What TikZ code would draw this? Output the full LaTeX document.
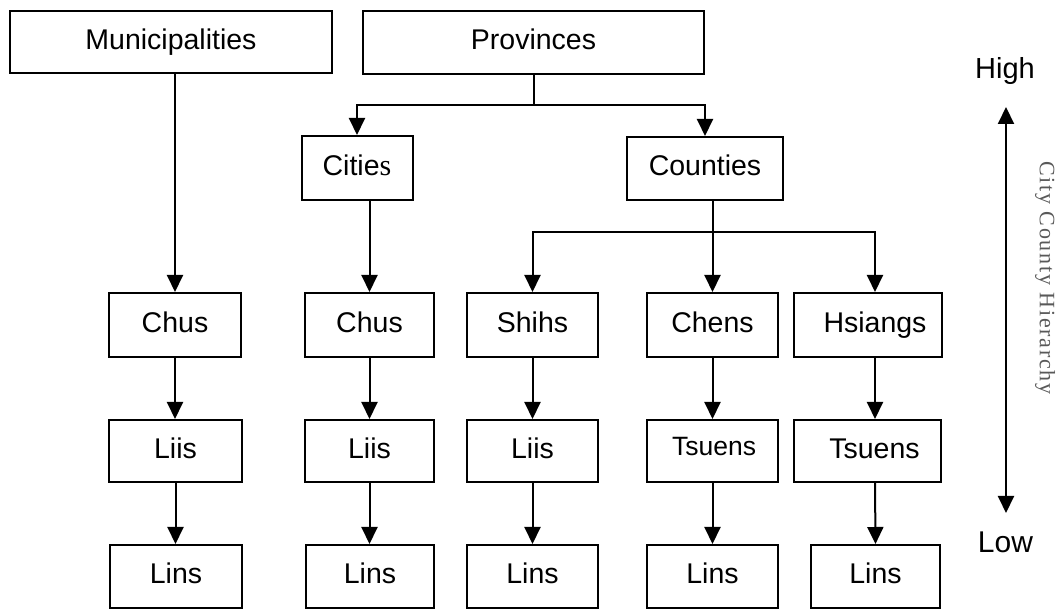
\documentclass[tikz,border=0pt]{standalone}
\usepackage{fontspec}
\setmainfont{Liberation Sans}
\newfontfamily\serifface{Liberation Serif}
\usetikzlibrary{arrows.meta}

\begin{document}
\begin{tikzpicture}[x=1pt,y=-1pt,
  lbl/.style={font=\fontsize{28.5}{32}\selectfont},
  box/.style={draw, line width=2pt, rectangle, inner sep=0pt, lbl, text height=20.5pt, text depth=6pt},
  link/.style={line width=2pt, line join=miter},
  arr/.style={link, -{Triangle[width=16pt,length=17pt]}},
  twoway/.style={link, {Triangle[width=16pt,length=17pt]}-{Triangle[width=16pt,length=17pt]}}]
  \useasboundingbox (0,0) rectangle (1061,609);

  % top level
  \node[box, minimum width=322pt, minimum height=62pt] (mun) at (171,42) {Municipalities};
  \node[box, minimum width=341pt, minimum height=63pt] (prov) at (533.5,42.5) {Provinces};
  \node[box, minimum width=111pt, minimum height=64pt] (cities) at (357,168) {Citie{\serifface\fontsize{30}{32}\selectfont s}};
  \node[box, minimum width=156pt, minimum height=63pt] (counties) at (705,168.5) {Counties};

  % second level
  \node[box, minimum width=132pt, minimum height=64pt] (chusA) at (175,325) {Chus};
  \node[box, minimum width=129pt, minimum height=64pt] (chusB) at (369.5,325) {Chus};
  \node[box, minimum width=131pt, minimum height=64pt] (shihs) at (532.5,325) {Shihs};
  \node[box, minimum width=131pt, minimum height=64pt] (chens) at (712.5,325) {Chens};
  \node[box, minimum width=148pt, minimum height=64pt] (hsiangs) at (868,325) {\hspace{14pt}Hsiangs};

  % third level
  \node[box, minimum width=133pt, minimum height=62pt] (liisA) at (175.5,451) {Liis};
  \node[box, minimum width=129pt, minimum height=62pt] (liisB) at (369.5,451) {Liis};
  \node[box, minimum width=131pt, minimum height=62pt] (liisC) at (532.5,451) {Liis};
  \node[box, minimum width=131pt, minimum height=62pt] (tsuensA) at (712.5,451) {};
  \node[font=\fontsize{26.5}{30}\selectfont, inner sep=0pt] (tsuensAtext) at (714,447) {Tsuens};
  \node[box, minimum width=147pt, minimum height=62pt] (tsuensB) at (867.5,451) {\hspace{14pt}Tsuens};

  % bottom level
  \node[box, minimum width=132pt, minimum height=63pt] (linsA) at (176,576.5) {Lins};
  \node[box, minimum width=128pt, minimum height=63pt] (linsB) at (370,576.5) {Lins};
  \node[box, minimum width=131pt, minimum height=63pt] (linsC) at (532.5,576.5) {Lins};
  \node[box, minimum width=131pt, minimum height=63pt] (linsD) at (712.5,576.5) {Lins};
  \node[box, minimum width=129pt, minimum height=63pt] (linsE) at (875.5,576.5) {Lins};

  % branch levels and the Hsiangs column
  \coordinate (pbus) at (0,105);
  \coordinate (cbus) at (0,232);
  \coordinate (colE) at (875,0);

  % Municipalities column
  \draw[arr] (chusA.north |- mun.south) -- (chusA.north);
  \draw[arr] (chusA.south) -- (chusA.south |- liisA.north);
  \draw[arr] (liisA.south) -- (liisA.south |- linsA.north);

  % Provinces branching
  \draw[arr] (prov.south) -- (prov.south |- pbus) -| (cities.north);
  \draw[arr] (prov.south |- pbus) -| (counties.north);

  % Cities column
  \draw[arr] (chusB.north |- cities.south) -- (chusB.north);
  \draw[arr] (chusB.south) -- (chusB.south |- liisB.north);
  \draw[arr] (liisB.south) -- (liisB.south |- linsB.north);

  % Counties branching
  \draw[arr] (chens.north |- counties.south) -- (chens.north);
  \draw[arr] (chens.north |- cbus) -| (shihs.north);
  \draw[arr] (chens.north |- cbus) -| (colE |- hsiangs.north);

  % county sub-columns
  \draw[arr] (shihs.south) -- (shihs.south |- liisC.north);
  \draw[arr] (liisC.south) -- (liisC.south |- linsC.north);
  \draw[arr] (chens.south) -- (chens.south |- tsuensA.north);
  \draw[arr] (tsuensA.south) -- (tsuensA.south |- linsD.north);
  \draw[arr] (colE |- hsiangs.south) -- (colE |- tsuensB.north);
  \draw[arr] (colE |- tsuensB.south) -- (linsE.north);

  % hierarchy scale
  \node[anchor=base, font=\fontsize{29}{32}\selectfont] (high) at (1005,79) {High};
  \node[anchor=base, font=\fontsize{30}{32}\selectfont] (low) at (1005.5,552) {Low};
  \coordinate (hiTip) at (1006,107);
  \coordinate (loTip) at (1006,513);
  \draw[twoway] (hiTip) -- (loTip);
  \node[rotate=-90, text=black!65, font=\serifface\fontsize{22}{24}\selectfont\addfontfeatures{LetterSpace=8}] (axis) at (1045,278) {City County Hierarchy};
\end{tikzpicture}
\end{document}
